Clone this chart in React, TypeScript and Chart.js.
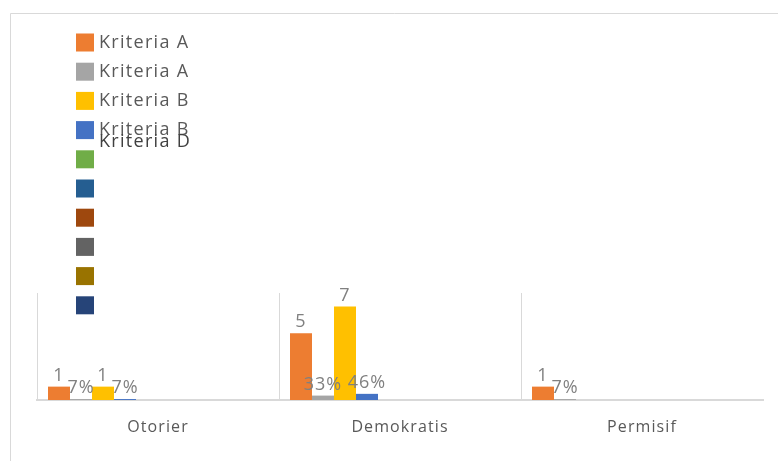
import React, { useEffect, useRef } from "react";
import { Chart, registerables } from "chart.js";

Chart.register(...registerables);

const categories = ["Otorier", "Demokratis", "Permisif"];
const kriteriaACount = [1, 5, 1];
const kriteriaAShare = [0.07, 0.33, 0.07];
const kriteriaBCount = [1, 7, null];
const kriteriaBShare = [0.07, 0.46, null];
const emptySeries = [null, null, null];
const seriesLabels = ["Kriteria A", "Kriteria A", "Kriteria B", "Kriteria B", "Kriteria D", "", "", "", "", ""];
const seriesIsPercent = [false, true, false, true, false, false, false, false, false, false];
const yMax = 8;

const seriesColors = ["#ED7D31", "#A5A5A5", "#FFC000", "#4472C4", "#70AD47", "#255E91", "#9E480E", "#636363", "#997300", "#264478"];
const FONT = "'Open Sans', 'Liberation Sans', sans-serif";

const seriesData = [kriteriaACount, kriteriaAShare, kriteriaBCount, kriteriaBShare, emptySeries, emptySeries, emptySeries, emptySeries, emptySeries, emptySeries];

const framePlugin = {
  id: "frame",
  beforeDraw(chart: any) {
    const ctx = chart.ctx;
    ctx.save();
    ctx.fillStyle = "#ffffff";
    ctx.fillRect(0, 0, chart.width, chart.height);
    ctx.strokeStyle = "#d9d9d9";
    ctx.lineWidth = 1;
    ctx.beginPath();
    ctx.moveTo(10.5, chart.height);
    ctx.lineTo(10.5, 13.5);
    ctx.lineTo(chart.width, 13.5);
    ctx.stroke();
    ctx.restore();
    // wider letter spacing for axis text, as in the reference
    ctx.letterSpacing = "1.1px";
  },
};

const labelPlugin = {
  id: "barLabels",
  afterDatasetsDraw(chart: any) {
    const ctx = chart.ctx;
    ctx.save();
    ctx.font = `18px ${FONT}`;
    ctx.letterSpacing = "1px";
    ctx.fillStyle = "#808080";
    ctx.textAlign = "center";
    ctx.textBaseline = "bottom";
    chart.data.datasets.forEach((ds: any, di: number) => {
      const meta = chart.getDatasetMeta(di);
      meta.data.forEach((bar: any, i: number) => {
        const v = ds.data[i];
        if (v === null || v === undefined) return;
        const text = seriesIsPercent[di] ? `${Math.round(v * 100)}%` : String(v);
        ctx.fillText(text, bar.x, bar.y - 2);
      });
    });
    ctx.restore();
  },
};

const legendPlugin = {
  id: "customLegend",
  afterDraw(chart: any) {
    const ctx = chart.ctx;
    ctx.save();
    ctx.font = `18px ${FONT}`;
    ctx.letterSpacing = "1.3px";
    ctx.textBaseline = "middle";
    ctx.textAlign = "left";
    chart.data.datasets.forEach((ds: any, i: number) => {
      const cy = 42.5 + i * 29.2;
      ctx.fillStyle = ds.backgroundColor;
      ctx.fillRect(76, cy - 9, 18, 18);
      if (ds.label) {
        const ty = i === 4 ? cy - 17 : cy;
        ctx.fillStyle = i === 4 ? "#404040" : "#595959";
        ctx.fillText(ds.label, 99, ty);
      }
    });
    ctx.restore();
  },
};

export default function App() {
  const ref = useRef<HTMLCanvasElement | null>(null);
  useEffect(() => {
    if (!ref.current) return;
    const chart = new Chart(ref.current, {
      type: "bar",
      data: {
        labels: categories,
        datasets: seriesData.map((d, i) => ({
          label: seriesLabels[i],
          data: d,
          backgroundColor: seriesColors[i],
          borderWidth: 0,
          categoryPercentage: 10 / 11,
          barPercentage: 1,
        })),
      },
      options: {
        responsive: false,
        animation: false,
        layout: { padding: { left: 37, right: 15, top: 293, bottom: 0 } },
        plugins: { legend: { display: false }, tooltip: { enabled: false } },
        scales: {
          x: {
            afterFit: (scale: any) => {
              scale.height = 61;
            },
            grid: {
              offset: true,
              drawTicks: false,
              color: (c: any) => (c.type === "tick" ? "#d9d9d9" : "rgba(0,0,0,0)"),
              lineWidth: 1,
            },
            border: { display: true, color: "#d9d9d9", width: 2 },
            ticks: { color: "#595959", font: { family: FONT, size: 16 }, padding: 18 },
          },
          y: { display: false, min: 0, max: yMax },
        },
      },
      plugins: [framePlugin, labelPlugin, legendPlugin],
    } as any);
    return () => chart.destroy();
  }, []);
  return (
    <div style={{ position: "absolute", left: 0, top: 0, width: 778, height: 461 }}>
      <canvas ref={ref} width={778} height={461} style={{ display: "block" }} />
    </div>
  );
}
